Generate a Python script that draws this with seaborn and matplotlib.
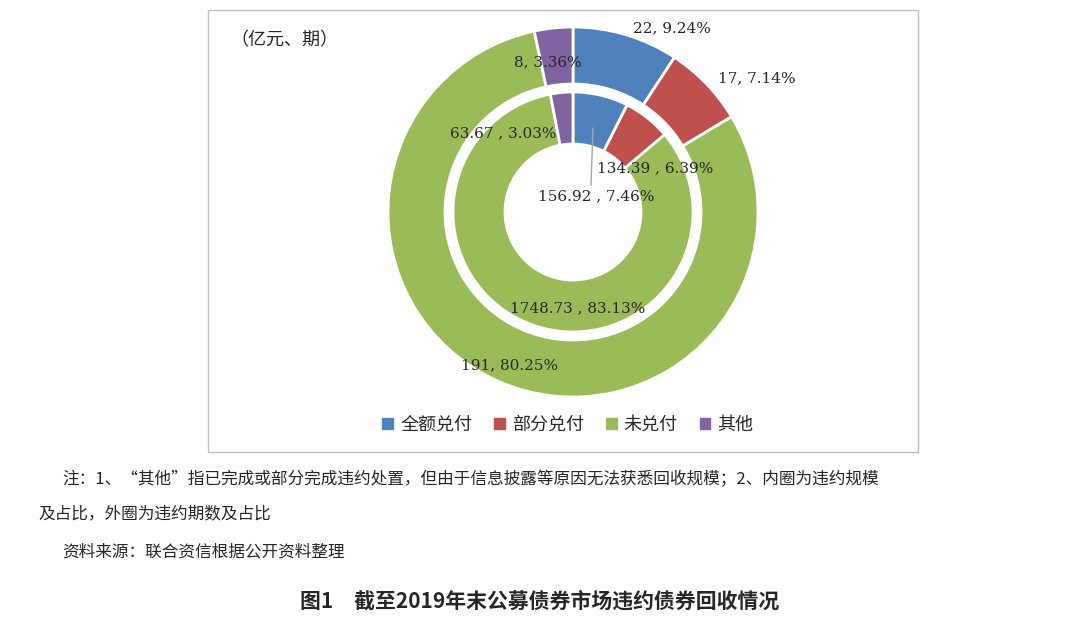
import matplotlib
matplotlib.use("Agg")
import matplotlib.pyplot as plt
import seaborn as sns
from matplotlib.patches import Rectangle

sns.set_theme(style="white")
plt.rcParams['font.family'] = ['Noto Sans CJK SC', 'DejaVu Sans']

categories = ['全额兑付', '部分兑付', '未兑付', '其他']
outer_counts = [22, 17, 191, 8]
outer_pcts = ['9.24%', '7.14%', '80.25%', '3.36%']
inner_amounts = [156.92, 134.39, 1748.73, 63.67]
inner_pcts = ['7.46%', '6.39%', '83.13%', '3.03%']
colors = ['#4F81BD', '#C0504D', '#9BBB59', '#8064A2']

fig = plt.figure(figsize=(10.8, 6.2), dpi=100)
W, H = 1080, 620
cx, cy, R = 573, 212, 190

# chart frame
fig.patches.append(Rectangle((208 / W, 1 - 452 / H), 710 / W, 442 / H,
                             transform=fig.transFigure, fill=False,
                             edgecolor='#BFBFBF', linewidth=1))

ax = fig.add_axes([(cx - R) / W, (H - cy - R) / H, 2 * R / W, 2 * R / H])
wo, _ = ax.pie(outer_counts, radius=185 / R, startangle=90, counterclock=False,
               colors=colors, wedgeprops=dict(width=57 / R, edgecolor='white', linewidth=2))
wi, _ = ax.pie(inner_amounts, radius=120 / R, startangle=90, counterclock=False,
               colors=colors, wedgeprops=dict(width=52 / R, edgecolor='white', linewidth=2))
ax.set_xlim(-1, 1)
ax.set_ylim(-1, 1)
ax.set_aspect('equal')
ax.axis('off')


def px(x, y):
    return (x - cx) / R, (cy - y) / R

outer_pos = [(672, 28), (757, 78), (510, 365), (548, 62)]
inner_pos = [(596, 196), (655, 168), (578, 308), (503, 133)]
for i in range(4):
    ax.text(*px(*outer_pos[i]), f'{outer_counts[i]}, {outer_pcts[i]}',
            ha='center', va='center', fontsize=11, fontfamily=['DejaVu Serif'])
    ax.text(*px(*inner_pos[i]), f'{inner_amounts[i]} , {inner_pcts[i]}',
            ha='center', va='center', fontsize=11, fontfamily=['DejaVu Serif'])
# leader line for the blue inner label
ax.plot(*zip(px(591, 185), px(593, 128)), color='#A6A6A6', linewidth=1)

fig.text(230 / W, 1 - 40 / H, '（亿元、期）', fontsize=13, va='center')

handles = [plt.Rectangle((0, 0), 1, 1, color=c) for c in colors]
fig.legend(handles, categories, loc='center', bbox_to_anchor=(568 / W, 1 - 425 / H),
           ncol=4, frameon=False, fontsize=13, handlelength=0.6, handleheight=0.6,
           columnspacing=1.2, handletextpad=0.4)

fig.text(62 / W, 1 - 480 / H,
         '注：1、“其他”指已完成或部分完成违约处置，但由于信息披露等原因无法获悉回收规模；2、内圈为违约规模',
         fontsize=12, va='center')
fig.text(38 / W, 1 - 514 / H, '及占比，外圈为违约期数及占比', fontsize=12, va='center')
fig.text(62 / W, 1 - 552 / H, '资料来源：联合资信根据公开资料整理', fontsize=12, va='center')
fig.text(540 / W, 1 - 601 / H, '图1　截至2019年末公募债券市场违约债券回收情况',
         fontsize=15, fontweight='bold', ha='center', va='center')

fig.savefig('out.png', dpi=100)
